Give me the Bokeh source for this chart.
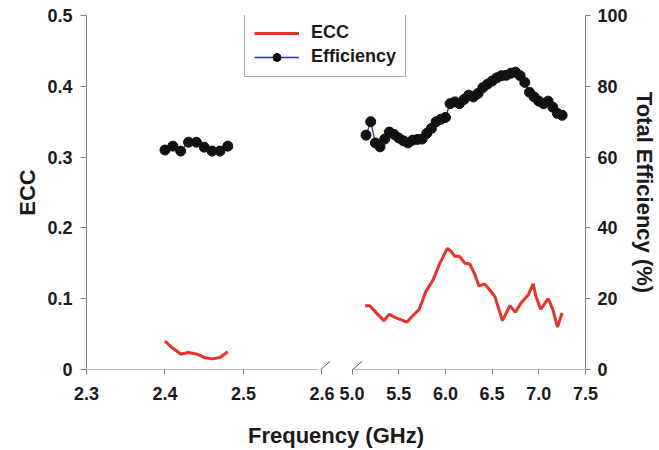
import numpy as np
from bokeh.plotting import figure
from bokeh.models import (Range1d, LinearAxis, FixedTicker, Legend, LegendItem,
                          ColumnDataSource)
from bokeh.embed import file_html
from bokeh.resources import INLINE

# ---------------- data ----------------
ecc_freq_24 = [2.40, 2.41, 2.42, 2.43, 2.44, 2.45, 2.46, 2.47, 2.48]
ecc_24 = [0.040, 0.030, 0.022, 0.024, 0.022, 0.017, 0.015, 0.017, 0.025]

eff_freq_24 = [2.40, 2.41, 2.42, 2.43, 2.44, 2.45, 2.46, 2.47, 2.48]
eff_24 = [62.0, 63.1, 61.7, 64.2, 64.2, 62.8, 61.7, 61.7, 63.1]

ecc_freq_5 = [5.14, 5.19, 5.26, 5.34, 5.40, 5.47, 5.53, 5.59, 5.63, 5.72,
              5.79, 5.87, 5.94, 6.02, 6.06, 6.10, 6.15, 6.21, 6.26, 6.31,
              6.36, 6.42, 6.47, 6.53, 6.61, 6.69, 6.75, 6.81, 6.89, 6.94,
              6.97, 7.02, 7.10, 7.15, 7.20, 7.25]
ecc_5 = [0.090, 0.090, 0.080, 0.069, 0.078, 0.073, 0.070, 0.067, 0.073, 0.085,
         0.110, 0.127, 0.150, 0.171, 0.167, 0.160, 0.160, 0.150, 0.149, 0.136,
         0.118, 0.121, 0.113, 0.103, 0.069, 0.090, 0.081, 0.094, 0.106, 0.121,
         0.103, 0.085, 0.100, 0.085, 0.060, 0.080]

eff_freq_5 = [5.15, 5.20, 5.25, 5.30, 5.35, 5.40, 5.45, 5.50, 5.55, 5.60,
              5.65, 5.70, 5.75, 5.80, 5.85, 5.90, 5.95, 6.00, 6.05, 6.10,
              6.15, 6.20, 6.25, 6.30, 6.35, 6.40, 6.45, 6.50, 6.55, 6.60,
              6.65, 6.70, 6.75, 6.80, 6.85, 6.90, 6.95, 7.00, 7.05, 7.10,
              7.15, 7.20, 7.25]
eff_5 = [66.2, 70.0, 64.0, 62.9, 65.1, 67.1, 66.4, 65.4, 64.6, 64.0,
         64.8, 65.0, 65.1, 66.7, 68.1, 70.0, 70.7, 71.2, 75.1, 75.6,
         75.1, 76.3, 77.5, 77.0, 78.0, 79.6, 80.6, 81.5, 82.4, 83.0,
         83.1, 83.7, 84.0, 83.0, 81.1, 78.3, 77.0, 75.8, 75.1, 75.8,
         74.1, 72.3, 71.8]

x_tick_vals = [2.3, 2.4, 2.5, 2.6, 5.0, 5.5, 6.0, 6.5, 7.0, 7.5]
x_tick_labels = ["2.3", "2.4", "2.5", "2.6", "5.0", "5.5", "6.0", "6.5", "7.0", "7.5"]
ecc_ticks = [0.0, 0.1, 0.2, 0.3, 0.4, 0.5]
eff_ticks = [0, 20, 40, 60, 80, 100]

# ---------------- broken x scale ----------------
LEFT_START, LEFT_END = 2.3, 2.6
RIGHT_START, RIGHT_END = 5.0, 7.5
LEFT_W, GAP, RIGHT_W = 235.0, 30.0, 233.0
X_TOTAL = LEFT_W + GAP + RIGHT_W


def to_disp(f):
    f = np.asarray(f, dtype=float)
    left = (f - LEFT_START) / (LEFT_END - LEFT_START) * LEFT_W
    right = LEFT_W + GAP + (f - RIGHT_START) / (RIGHT_END - RIGHT_START) * RIGHT_W
    return np.where(f < (LEFT_END + RIGHT_START) / 2, left, right)


def joined(xa, ya, xb, yb):
    x = list(to_disp(xa)) + [np.nan] + list(to_disp(xb))
    y = list(ya) + [np.nan] + list(yb)
    return x, y


ecc_x, ecc_y = joined(ecc_freq_24, ecc_24, ecc_freq_5, ecc_5)
eff_x, eff_y = joined(eff_freq_24, eff_24, eff_freq_5, eff_5)

FONT = "Liberation Sans"
TXT = "#1a1a1a"
AX = "#7a7a7a"

p = figure(width=659, height=450, output_backend="svg", toolbar_location=None,
           x_range=Range1d(0, X_TOTAL), y_range=Range1d(0, 0.5),
           min_border_left=86, min_border_right=74, min_border_top=15,
           min_border_bottom=80)
p.outline_line_color = None
p.grid.visible = False
p.background_fill_color = "white"
p.border_fill_color = "white"

p.extra_y_ranges = {"eff": Range1d(0, 100)}

# ECC line
ecc_r = p.line(ecc_x, ecc_y, line_color="#e8322b", line_width=3)

# Efficiency line + dots
src_eff = ColumnDataSource(dict(x=eff_x, y=eff_y))
eff_line = p.line("x", "y", source=src_eff, line_color="#2233a0", line_width=1.3,
                  y_range_name="eff")
eff_dots = p.scatter("x", "y", source=src_eff, size=10, fill_color="#111111",
                     line_color="#111111", y_range_name="eff")

# x axis (ticks + labels; its line is drawn in two broken pieces below)
tick_pos = [round(float(to_disp(v)), 6) for v in x_tick_vals]
xa = p.xaxis[0]
xa.ticker = FixedTicker(ticks=tick_pos)
xa.major_label_overrides = {t: lab for t, lab in zip(tick_pos, x_tick_labels)}
xa.axis_line_color = None
xa.major_tick_line_color = AX
xa.major_tick_out = 5
xa.major_tick_in = 0
xa.minor_tick_line_color = None
xa.major_label_standoff = 12
xa.axis_label = "Frequency (GHz)"
xa.axis_label_standoff = 20

# left y axis
ya = p.yaxis[0]
ya.ticker = FixedTicker(ticks=ecc_ticks)
ya.axis_line_color = AX
ya.major_tick_line_color = AX
ya.major_tick_out = 6
ya.major_tick_in = 0
ya.minor_tick_line_color = None
ya.major_label_standoff = 8
ya.axis_label = "ECC"
ya.axis_label_standoff = 4

# right y axis
ry = LinearAxis(y_range_name="eff", ticker=FixedTicker(ticks=eff_ticks),
                axis_label="Total Efficiency (%)")
ry.axis_line_color = AX
ry.major_tick_line_color = AX
ry.major_tick_out = 5
ry.major_tick_in = 0
ry.minor_tick_line_color = None
ry.major_label_standoff = 7
ry.axis_label_standoff = 1
p.add_layout(ry, "right")

for ax in [xa, ya, ry]:
    ax.major_label_text_font = FONT
    ax.major_label_text_font_style = "bold"
    ax.major_label_text_font_size = "18px"
    ax.major_label_text_color = TXT
    ax.axis_label_text_font = FONT
    ax.axis_label_text_font_style = "bold"
    ax.axis_label_text_font_size = "22px"
    ax.axis_label_text_color = TXT

# broken x-axis line: two bounded axis lines fixed at y = 0
b_left = float(to_disp(LEFT_END))
b_right = float(to_disp(RIGHT_START))
for lo, hi in [(0.0, b_left - 3), (b_right + 1, X_TOTAL)]:
    seg_ax = LinearAxis(fixed_location=0, bounds=(lo, hi),
                        ticker=FixedTicker(ticks=[]))
    seg_ax.axis_line_color = AX
    seg_ax.axis_line_width = 1
    seg_ax.major_tick_line_color = None
    seg_ax.minor_tick_line_color = None
    seg_ax.major_label_text_font_size = "0px"
    p.add_layout(seg_ax, "below")

# break slashes
p.segment(x0=[b_left - 13, b_right - 11], y0=[-0.0141, -0.0141],
          x1=[b_left + 8, b_right + 10], y1=[0.0113, 0.0113],
          line_color="#555555", line_width=1)

legend = Legend(items=[LegendItem(label="ECC", renderers=[ecc_r]),
                       LegendItem(label="Efficiency", renderers=[eff_line, eff_dots])],
                location=(158, 292))
legend.label_text_font = FONT
legend.label_text_font_style = "bold"
legend.label_text_font_size = "18px"
legend.label_text_color = TXT
legend.glyph_width = 45
legend.glyph_height = 20
legend.label_height = 20
legend.label_standoff = 12
legend.padding = 9
legend.spacing = 3
legend.margin = 0
legend.border_line_color = "#555555"
legend.border_line_width = 1
legend.background_fill_color = "white"
legend.background_fill_alpha = 1
p.add_layout(legend)

open("out.html", "w").write(file_html(p, INLINE))
